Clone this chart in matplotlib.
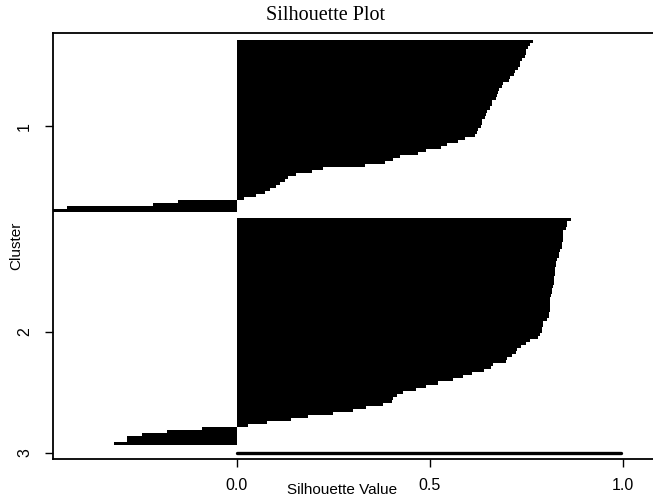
import matplotlib
matplotlib.use("Agg")
import matplotlib.pyplot as plt
import numpy as np

# silhouette widths, sorted within each cluster (top to bottom)
cluster_1 = [
    0.766, 0.760, 0.755, 0.748, 0.748, 0.745, 0.738, 0.733, 0.733, 0.728,
    0.720, 0.718, 0.708, 0.705, 0.690, 0.686, 0.678, 0.676, 0.674, 0.670,
    0.662, 0.660, 0.656, 0.648, 0.645, 0.642, 0.636, 0.634, 0.632, 0.625,
    0.621, 0.618, 0.590, 0.572, 0.545, 0.530, 0.490, 0.470, 0.422, 0.405,
    0.383, 0.332, 0.224, 0.194, 0.155, 0.133, 0.125, 0.112, 0.103, 0.086,
    0.073, 0.050, 0.020, -0.152, -0.216, -0.440, -0.475,
]
cluster_2 = [
    0.864, 0.854, 0.854, 0.852, 0.845, 0.845, 0.845, 0.844, 0.843, 0.842,
    0.836, 0.835, 0.833, 0.828, 0.827, 0.826, 0.825, 0.824, 0.823, 0.822,
    0.821, 0.820, 0.819, 0.815, 0.815, 0.814, 0.812, 0.811, 0.811, 0.810,
    0.810, 0.809, 0.808, 0.802, 0.794, 0.792, 0.791, 0.790, 0.785, 0.780,
    0.759, 0.750, 0.737, 0.726, 0.722, 0.712, 0.700, 0.698, 0.664, 0.658,
    0.640, 0.610, 0.585, 0.560, 0.520, 0.490, 0.465, 0.430, 0.414, 0.405,
    0.403, 0.380, 0.335, 0.300, 0.250, 0.185, 0.142, 0.078, 0.030, -0.090,
    -0.179, -0.244, -0.283, -0.283, -0.316,
]
cluster_3 = [0.995]
cluster_names = ["1", "2", "3"]
x_ticks = [0.0, 0.5, 1.0]

clusters = [cluster_1, cluster_2, cluster_3]
gap = 2

fig = plt.figure(figsize=(6.53, 4.98), dpi=100)
W, H = 653, 498
left, right_px = 53, 53 + 1.575 * 386.5
top, bottom = 33, 459
ax = fig.add_axes([left / W, 1 - bottom / H, (right_px - left) / W, (bottom - top) / H])

start = 0
centers = []
for i, vals in enumerate(clusters):
    pos = start + np.arange(len(vals))
    if i == len(clusters) - 1:
        ax.plot([0, vals[0]], [pos[0] + 0.5] * 2, color="black", lw=2.4,
                solid_capstyle="round")
    else:
        ax.barh(pos, vals, height=1, align="edge", color="black",
                linewidth=0, antialiased=False)
    centers.append(start + len(vals) / 2)
    start += len(vals) + gap

ax.set_xlim(-0.475, 1.1)
ax.set_ylim(138.65, -2.32)

ax.set_xticks(x_ticks)
ax.set_xticklabels([f"{t:.1f}" for t in x_ticks])
ax.set_yticks(centers)
ax.set_yticklabels(cluster_names, rotation=90, va="center")

for lab in ax.get_xticklabels() + ax.get_yticklabels():
    lab.set_fontfamily("Liberation Sans")
    lab.set_fontsize(11.5)

ax.tick_params(direction="out", length=6, width=1.0, pad=8)
ax.tick_params(axis="y", pad=9)
for side in ["left", "bottom", "top"]:
    ax.spines[side].set_linewidth(1.3)
ax.spines["right"].set_visible(False)

ax.set_xlabel("Silhouette Value", family="Liberation Sans", fontsize=11)
ax.xaxis.set_label_coords((342 - left) / (right_px - left), -(490 - bottom) / (bottom - top))
ax.xaxis.label.set_verticalalignment("center")
ax.set_ylabel("Cluster", family="Liberation Sans", fontsize=11)
ax.yaxis.set_label_coords((16 - left) / (right_px - left), 0.5)
ax.yaxis.label.set_verticalalignment("center")

fig.text(325 / W, 1 - 15 / H, "Silhouette Plot", family="Liberation Serif",
         fontsize=14.5, ha="center", va="center")

fig.savefig("out.png", dpi=100)
